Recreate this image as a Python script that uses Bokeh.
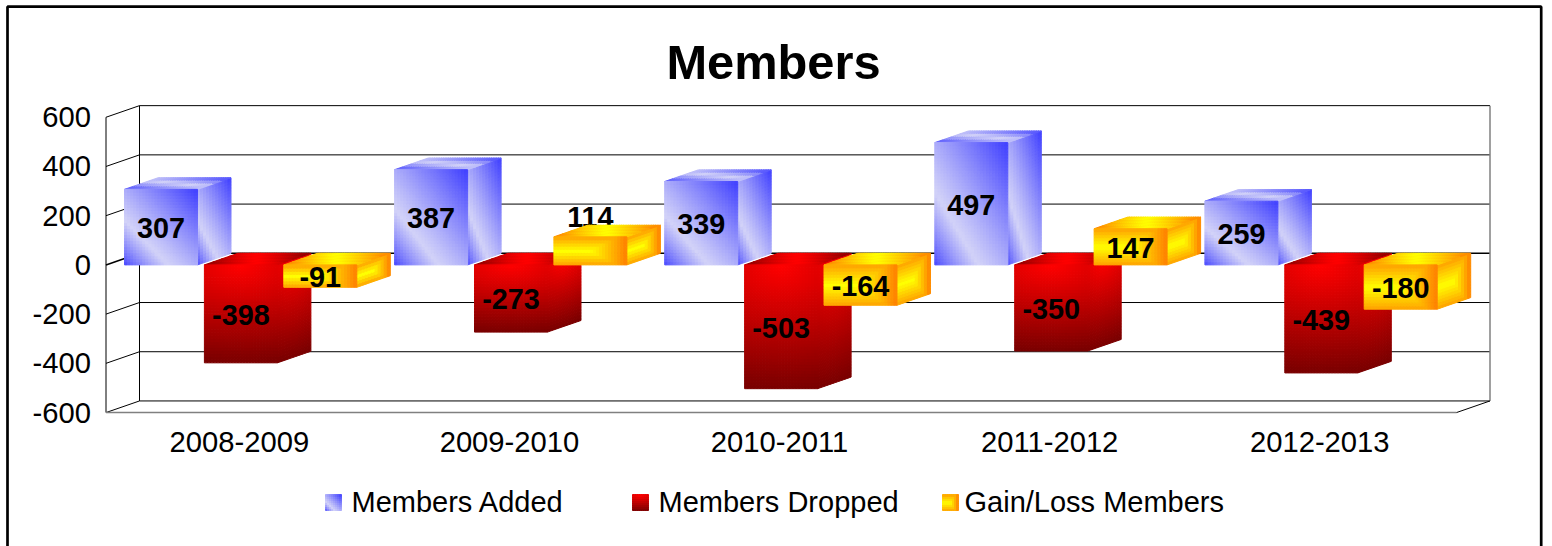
from bokeh.core.properties import value as pvalue
from bokeh.embed import file_html
from bokeh.models import ColumnDataSource, FixedTicker, Label, Range1d
from bokeh.plotting import figure
from bokeh.resources import INLINE

# ---- chart values ----
seasons = ["2008-2009", "2009-2010", "2010-2011", "2011-2012", "2012-2013"]
members_added = [307, 387, 339, 497, 259]
members_dropped = [-398, -273, -503, -350, -439]
gain_loss = [-91, 114, -164, 147, -180]
series_names = ["Members Added", "Members Dropped", "Gain/Loss Members"]
y_ticks = [600, 400, 200, 0, -200, -400, -600]

# ---- layout (pixels on the page) ----
W, H = 1552, 546
X0, GROUP_PX = 105.5, 270.1      # x of the front-left wall, width of one category
Y0, UNIT_PX = 264.4, 0.24608     # y of value 0, pixels per member
FONT = "Liberation Sans"


def ux(px):
    return (px - X0) / GROUP_PX


def uy(py):
    return (Y0 - py) / UNIT_PX


DX = 33.5 / GROUP_PX             # depth of the 3D box, x
DY = 11.6 / UNIT_PX              # depth of the 3D box, y
BAR_W = 73.0 / GROUP_PX
BAR_OFF = [18.5 / GROUP_PX, 98.4 / GROUP_PX, 177.8 / GROUP_PX]


def lerp(a, b, t):
    t = max(0.0, min(1.0, t))
    return tuple(a[i] + (b[i] - a[i]) * t for i in range(3))


def hexc(c):
    return "#%02x%02x%02x" % tuple(int(round(x)) for x in c)


BLUE, LIGHT = (64, 64, 255), (210, 210, 248)
RED, DARK = (255, 0, 0), (122, 0, 0)
YEL, ORG = (255, 255, 0), (255, 128, 0)


def blue_face(u, v, peak=0.3):
    t = (u + v) / 2
    if t < peak:
        return lerp(BLUE, LIGHT, (t / peak) ** 0.8)
    return lerp(LIGHT, BLUE, ((t - peak) / (1 - peak)) ** 1.1)


def blue_top(u, v):
    return blue_face(u, v, 0.5)


def red_face(u, v):
    t = ((1 - v) ** 2 + (0.22 * (2 * u - 1)) ** 2) ** 0.5
    return lerp(RED, DARK, t)


def red_top(u, v):
    return lerp(RED, (135, 0, 0), abs(2 * u - 1) ** 1.3)


def yellow_face(u, v):
    su = 2 * u - 1
    su = su * (1.0 if su > 0 else 0.85)
    return lerp(YEL, ORG, max(su, abs(2 * v - 1) * 0.75) ** 1.05)


def yellow_top(u, v):
    return lerp(YEL, ORG, abs(2 * u - 1) ** 1.1)


STYLES = [(blue_face, blue_top), (red_face, red_top), (yellow_face, yellow_top)]

xs, ys, colors = [], [], []


def add_front(x0, x1, y0, y1, fn, nu, nv):
    for i in range(nu):
        for j in range(nv):
            a0, a1 = x0 + (x1 - x0) * i / nu, x0 + (x1 - x0) * (i + 1) / nu
            b0, b1 = y0 + (y1 - y0) * j / nv, y0 + (y1 - y0) * (j + 1) / nv
            xs.append([a0, a1, a1, a0])
            ys.append([b0, b0, b1, b1])
            colors.append(hexc(fn((i + 0.5) / nu, (j + 0.5) / nv)))


def add_bar(x0, value, style):
    face, top = style
    x1 = x0 + BAR_W
    lo, hi = min(0, value), max(0, value)
    nv = max(4, int((hi - lo) * UNIT_PX / 3))
    # right side
    nu_s = 11
    for i in range(nu_s):
        for j in range(nv):
            a0, a1 = i / nu_s, (i + 1) / nu_s
            b0 = lo + (hi - lo) * j / nv
            b1 = lo + (hi - lo) * (j + 1) / nv
            xs.append([x1 + DX * a0, x1 + DX * a1, x1 + DX * a1, x1 + DX * a0])
            ys.append([b0 + DY * a0, b0 + DY * a1, b1 + DY * a1, b1 + DY * a0])
            colors.append(hexc(face((i + 0.5) / nu_s, (j + 0.5) / nv)))
    # top
    nu_t, nv_t = 32, 4
    total = BAR_W + DX
    for i in range(nu_t):
        for j in range(nv_t):
            a0, a1 = i / nu_t * BAR_W, (i + 1) / nu_t * BAR_W
            c0, c1 = j / nv_t, (j + 1) / nv_t
            xs.append([x0 + a0 + DX * c0, x0 + a1 + DX * c0, x0 + a1 + DX * c1, x0 + a0 + DX * c1])
            ys.append([hi + DY * c0, hi + DY * c0, hi + DY * c1, hi + DY * c1])
            mid_x = (a0 + a1) / 2 + DX * (c0 + c1) / 2
            colors.append(hexc(top(mid_x / total, (c0 + c1) / 2)))
    # front
    add_front(x0, x1, lo, hi, face, 24, nv)


p = figure(
    width=W, height=H, output_backend="svg", toolbar_location=None,
    x_range=Range1d(ux(0), ux(W)), y_range=Range1d(uy(H), uy(0)),
    min_border=0, outline_line_color=None,
)
p.grid.visible = False
p.background_fill_color = "white"

# ---- walls ----
wall_c, grey = "#000000", "#808080"
x_back_r = len(seasons) + DX
for t in y_ticks:
    lw = 1.6 if t == 0 else 1
    p.line([0, DX], [t, t + DY], line_color=wall_c, line_width=lw)
    p.line([DX, x_back_r], [t + DY, t + DY], line_color=wall_c, line_width=lw)
p.line([0, 0], [-600, 600], line_color=wall_c, line_width=1)
p.line([DX, DX], [-600 + DY, 600 + DY], line_color=wall_c, line_width=1)
p.line([x_back_r, x_back_r], [-600 + DY, 600 + DY], line_color=grey, line_width=1.5)
p.line([0, len(seasons)], [-600, -600], line_color=grey, line_width=1.5)
p.line([len(seasons), x_back_r], [-600, -600 + DY], line_color=wall_c, line_width=1)

# ---- data labels that sit above a short bar are covered by the box ----
series = [members_added, members_dropped, gain_loss]
lab_x, lab_y, lab_t, high_x, high_y, high_t = [], [], [], [], [], []
for g in range(len(seasons)):
    for s, values in enumerate(series):
        v = values[g]
        x0 = g + BAR_OFF[s]
        add_bar(x0, v, STYLES[s])
        cx = x0 + BAR_W / 2
        if 0 < v < 130:
            high_x.append(cx)
            high_y.append(v + 20 / UNIT_PX)
            high_t.append(str(v))
        else:
            lab_x.append(cx)
            lab_y.append(v / 2 - 0.8 / UNIT_PX)
            lab_t.append(str(v))

label_style = dict(text_font_size="28.8px", text_font_style="bold", text_align="center",
                   text_baseline="middle", text_color="black", text_font=pvalue(FONT))
p.text(high_x, high_y, text=high_t, **label_style)

# ---- legend swatches ----
sw_left = [325, 632, 942]
for i, st in enumerate(STYLES):
    add_front(ux(sw_left[i]), ux(sw_left[i] + 16), uy(510), uy(494), st[0], 8, 8)

src = ColumnDataSource(dict(xs=xs, ys=ys, color=colors))
p.patches("xs", "ys", source=src, fill_color="color", line_color="color", line_width=1)
p.text(lab_x, lab_y, text=lab_t, **label_style)

# ---- axes ----
p.yaxis.fixed_location = 0
p.yaxis.ticker = FixedTicker(ticks=y_ticks)
p.yaxis.major_label_overrides = {t: str(t) for t in y_ticks}
p.xaxis.fixed_location = -600
x_ticks = [i + 0.5 - 1.7 / GROUP_PX for i in range(len(seasons))]
p.xaxis.ticker = FixedTicker(ticks=x_ticks)
p.xaxis.major_label_overrides = dict(zip(x_ticks, seasons))
for ax, standoff in ((p.yaxis, 9), (p.xaxis, 13)):
    ax.axis_line_color = None
    ax.major_tick_line_color = None
    ax.minor_tick_line_color = None
    ax.major_label_text_font = FONT
    ax.major_label_text_font_size = "29.2px"
    ax.major_label_text_color = "black"
    ax.major_label_standoff = standoff

# ---- title, legend text ----
p.add_layout(Label(x=ux(773), y=uy(61), text="Members", text_font=FONT, text_font_size="48.8px",
                   text_font_style="bold", text_align="center", text_baseline="middle",
                   text_color="black"))
for name, left in zip(series_names, [351, 658, 964]):
    p.add_layout(Label(x=ux(left), y=uy(501.5), text=name, text_font=FONT, text_font_size="29px",
                       text_align="left", text_baseline="middle", text_color="black"))

# ---- outer frame (its lower edge lies below the page) ----
p.line([ux(7), ux(7), ux(1540.7), ux(1540.7)], [uy(546), uy(6.2), uy(6.2), uy(546)],
       line_color="black", line_width=2.7)

open("out.html", "w").write(file_html(p, INLINE))
